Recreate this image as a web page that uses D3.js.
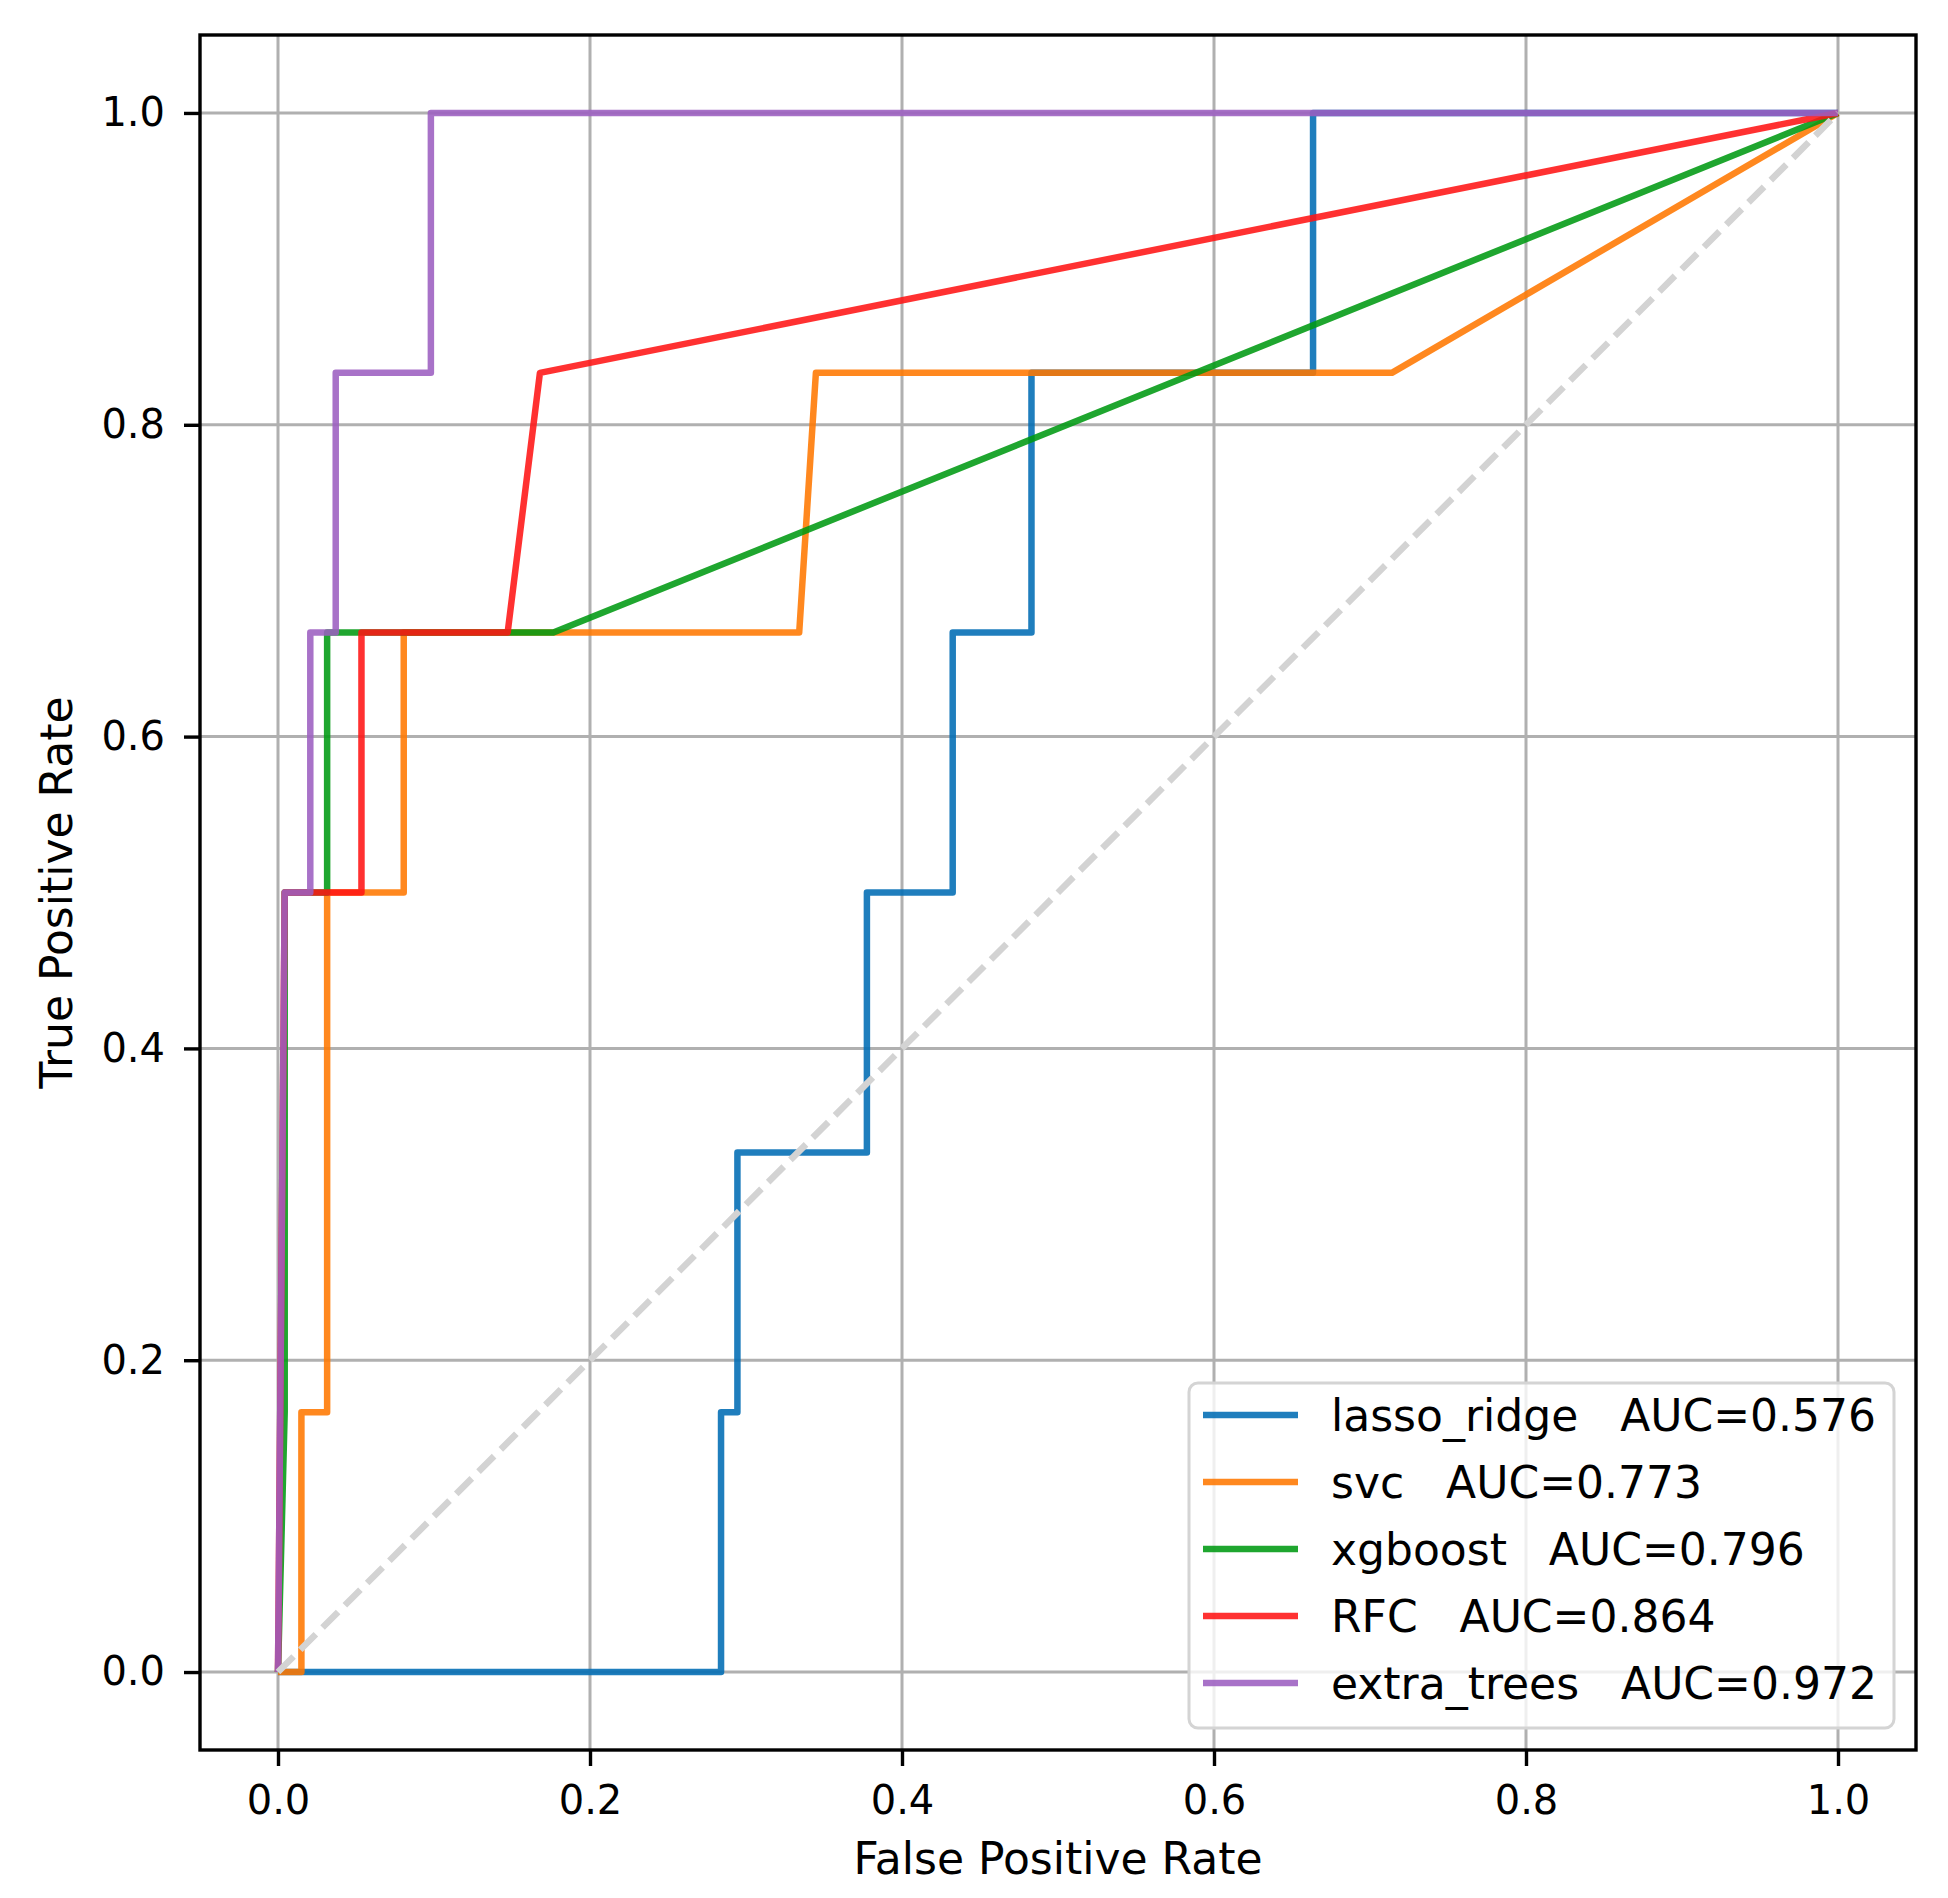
<!DOCTYPE html>
<html>
<head>
<meta charset="utf-8">
<script src="https://cdn.jsdelivr.net/npm/d3@7"></script>
<style>
  html, body { margin: 0; padding: 0; background: #fff; }
  svg { display: block; font-family: "DejaVu Sans", sans-serif; }
</style>
</head>
<body>
<svg id="chart" width="1948" height="1898"></svg>
<script>
// model names, AUC labels and colours, in plotting order
const models = ["lasso_ridge", "svc", "xgboost", "RFC", "extra_trees"];
const aucLabels = ["0.576", "0.773", "0.796", "0.864", "0.972"];
const colors = ["#006cb4", "#ff7800", "#009a12", "#ff1414", "#9c5fc0"];

// ROC points (six positives, so tpr steps of 1/6)
const lassoFpr = [0, 0.284, 0.284, 0.2945, 0.2945, 0.3775, 0.3775, 0.4325, 0.4325, 0.483, 0.483, 0.6635, 0.6635, 1];
const lassoTpr = [0, 0, 0.1667, 0.1667, 0.3333, 0.3333, 0.5, 0.5, 0.6667, 0.6667, 0.8333, 0.8333, 1, 1];

const svcFpr = [0, 0.015, 0.015, 0.0315, 0.0315, 0.0806, 0.0806, 0.3341, 0.3448, 0.714, 1];
const svcTpr = [0, 0, 0.1667, 0.1667, 0.5, 0.5, 0.6667, 0.6667, 0.8333, 0.8333, 1];

const xgbFpr = [0, 0.0043, 0.0043, 0.0315, 0.0315, 0.1765, 1];
const xgbTpr = [0, 0.1667, 0.5, 0.5, 0.6667, 0.6667, 1];

const rfcFpr = [0, 0.0043, 0.0535, 0.0535, 0.1472, 0.1679, 1];
const rfcTpr = [0, 0.5, 0.5, 0.6667, 0.6667, 0.8333, 1];

const etFpr = [0, 0.0043, 0.0207, 0.0207, 0.037, 0.037, 0.098, 0.098, 1];
const etTpr = [0, 0.5, 0.5, 0.6667, 0.6667, 0.8333, 0.8333, 1, 1];

const curveFpr = [lassoFpr, svcFpr, xgbFpr, rfcFpr, etFpr];
const curveTpr = [lassoTpr, svcTpr, xgbTpr, rfcTpr, etTpr];

const tickValues = [0, 0.2, 0.4, 0.6, 0.8, 1.0];
const chanceLine = [0, 1];

const frame = { left: 200, top: 35, right: 1916, bottom: 1750 };
const lineWidth = 6.5;
const lineAlpha = 0.88;

const svg = d3.select("#chart");
const width = frame.right - frame.left;
const height = frame.bottom - frame.top;

const x = d3.scaleLinear().domain([-0.05, 1.05]).range([0, width]);
const y = d3.scaleLinear().domain([-0.05, 1.05]).range([height, 0]);

svg.append("rect")
  .attr("width", 1948)
  .attr("height", 1898)
  .attr("fill", "#fff");

const g = svg.append("g").attr("transform", `translate(${frame.left},${frame.top})`);

// grid
const grid = g.append("g").attr("stroke", "#b0b0b0").attr("stroke-width", 3);
grid.selectAll("line.gx")
  .data(tickValues)
  .join("line")
  .attr("class", "gx")
  .attr("x1", (d) => x(d))
  .attr("x2", (d) => x(d))
  .attr("y1", 0)
  .attr("y2", height);
grid.selectAll("line.gy")
  .data(tickValues)
  .join("line")
  .attr("class", "gy")
  .attr("y1", (d) => y(d))
  .attr("y2", (d) => y(d))
  .attr("x1", 0)
  .attr("x2", width);

// roc curves
const line = d3.line()
  .x((d) => x(d[0]))
  .y((d) => y(d[1]));

const curves = models.map((name, i) => ({
  name,
  color: colors[i],
  points: curveFpr[i].map((f, j) => [f, curveTpr[i][j]])
}));

g.append("g")
  .selectAll("path.roc")
  .data(curves)
  .join("path")
  .attr("class", "roc")
  .attr("d", (d) => line(d.points))
  .attr("fill", "none")
  .attr("stroke", (d) => d.color)
  .attr("stroke-opacity", lineAlpha)
  .attr("stroke-width", lineWidth)
  .attr("stroke-linejoin", "round");

// chance diagonal
g.append("path")
  .attr("d", line(chanceLine.map((v) => [v, v])))
  .attr("fill", "none")
  .attr("stroke", "#d3d3d3")
  .attr("stroke-width", lineWidth)
  .attr("stroke-dasharray", "22,9.5");

// axes
const xAxis = g.append("g")
  .attr("transform", `translate(0,${height})`)
  .call(d3.axisBottom(x).tickValues(tickValues).tickFormat(d3.format(".1f")).tickSize(16).tickPadding(20));
const yAxis = g.append("g")
  .call(d3.axisLeft(y).tickValues(tickValues).tickFormat(d3.format(".1f")).tickSize(16).tickPadding(19));

[xAxis, yAxis].forEach((axis) => {
  axis.select(".domain").remove();
  axis.selectAll(".tick line").attr("stroke", "#000").attr("stroke-width", 3.4);
  axis.selectAll(".tick text")
    .attr("fill", "#000")
    .style("font-family", "'DejaVu Sans', sans-serif")
    .style("font-size", "40px");
});

g.append("rect")
  .attr("width", width)
  .attr("height", height)
  .attr("fill", "none")
  .attr("stroke", "#000")
  .attr("stroke-width", 3.4);

// axis titles
svg.append("text")
  .attr("x", frame.left + width / 2)
  .attr("y", 1874)
  .attr("text-anchor", "middle")
  .style("font-size", "44px")
  .text("False Positive Rate");

svg.append("text")
  .attr("transform", `translate(72,${frame.top + height / 2}) rotate(-90)`)
  .attr("text-anchor", "middle")
  .style("font-size", "44px")
  .text("True Positive Rate");

// legend
const legendBox = { x: 1189, y: 1383, w: 705, h: 345 };
const legend = svg.append("g");
legend.append("rect")
  .attr("x", legendBox.x)
  .attr("y", legendBox.y)
  .attr("width", legendBox.w)
  .attr("height", legendBox.h)
  .attr("rx", 9)
  .attr("fill", "#fff")
  .attr("fill-opacity", 0.8)
  .attr("stroke", "#d4d4d4")
  .attr("stroke-width", 3);

const rows = legend.selectAll("g.entry")
  .data(curves)
  .join("g")
  .attr("class", "entry")
  .attr("transform", (d, i) => `translate(${legendBox.x},${1415 + i * 67})`);

rows.append("line")
  .attr("x1", 14)
  .attr("x2", 109)
  .attr("stroke", (d) => d.color)
  .attr("stroke-opacity", lineAlpha)
  .attr("stroke-width", lineWidth);

rows.append("text")
  .attr("x", 142)
  .attr("y", 15.5)
  .attr("xml:space", "preserve")
  .style("white-space", "pre")
  .style("font-size", "44px")
  .text((d, i) => `${d.name}   AUC=${aucLabels[i]}`);
</script>
</body>
</html>
